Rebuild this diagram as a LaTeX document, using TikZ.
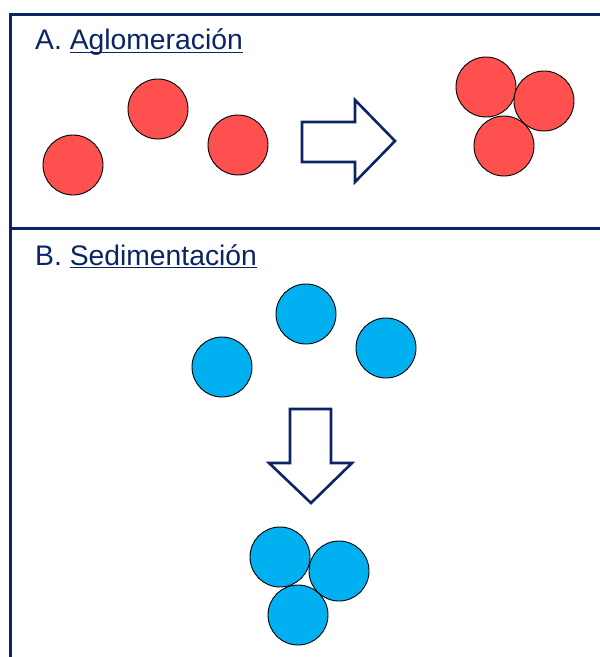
\documentclass[tikz,border=0pt]{standalone}
\usepackage{fontspec}
\setmainfont{Liberation Sans}
\definecolor{navy}{HTML}{0A2466}
\definecolor{redball}{HTML}{FF5050}
\definecolor{blueball}{HTML}{00B0F0}
\newcommand\myul[1]{\setbox0\hbox{#1}\rlap{\rule[-3.4pt]{\wd0}{1.6pt}}\box0}
\begin{document}
\begin{tikzpicture}[x=1bp,y=-1bp,
  ball/.style={circle, draw=black, line width=0.9bp, minimum size=60bp, inner sep=0pt},
  redb/.style={ball, fill=redball},
  blueb/.style={ball, fill=blueball},
  frame/.style={draw=navy, line width=3bp},
  bigarrow/.style={draw=navy, line width=2.6bp, fill=white, line join=miter},
  title/.style={anchor=base west, inner sep=0pt, text=navy, font=\fontsize{28.4}{34}\selectfont}]
\useasboundingbox (0,0) rectangle (600,657);
% frame
\draw[frame] (601,15) -- (10,15) -- (10,658);
\draw[frame] (10,228) -- (601,228);
% titles
\node[title] (ta) at (35,50) {A. \myul{Aglomeración}};
\node[title] (tb) at (35,265) {B. \myul{Sedimentación}};
% section A balls
\node[redb] (r1) at (73,165) {};
\node[redb] (r2) at (158,109) {};
\node[redb] (r3) at (238,145) {};
\draw[bigarrow] (302,122) -- (355,122) -- (355,100) -- (395,141) -- (355,182) -- (355,162) -- (302,162) -- cycle;
\node[redb] (c1) at (486,87) {};
\node[redb] (c2) at (544,101) {};
\node[redb] (c3) at (504,146) {};
% section B balls
\node[blueb] (b1) at (306,314) {};
\node[blueb] (b2) at (386,348) {};
\node[blueb] (b3) at (222,367) {};
\draw[bigarrow] (290,409) -- (331,409) -- (331,463) -- (352,463) -- (311,503) -- (269,463) -- (290,463) -- cycle;
\node[blueb] (d1) at (280,557) {};
\node[blueb] (d2) at (339,571) {};
\node[blueb] (d3) at (298,615) {};
\end{tikzpicture}
\end{document}
